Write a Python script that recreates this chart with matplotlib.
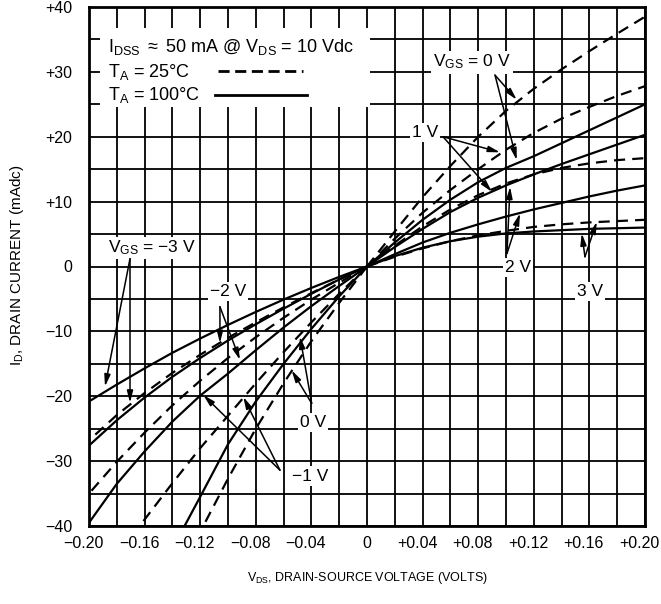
import numpy as np
import matplotlib
matplotlib.use("Agg")
from matplotlib import pyplot as plt
from matplotlib.patches import Rectangle
from matplotlib.transforms import ScaledTranslation

plt.rcParams['font.family'] = ['Liberation Sans', 'DejaVu Sans']
plt.rcParams['mathtext.fontset'] = 'custom'
plt.rcParams['mathtext.rm'] = 'Liberation Sans'
plt.rcParams['mathtext.it'] = 'Liberation Sans'

# drain-source voltage steps (volts)
vds_pos = [0, 0.02, 0.04, 0.06, 0.08, 0.10, 0.12, 0.14, 0.16, 0.18, 0.20]
vds_neg = [0, -0.02, -0.04, -0.06, -0.08, -0.10, -0.12, -0.14, -0.16, -0.18, -0.20]

# positive side, VGS = 0, 1, 2, 3 V  (mAdc)
pos_25 = {
    "0 V": [0, 5.4, 10.7, 15.5, 20.0, 24.0, 27.4, 30.4, 33.2, 35.9, 38.5],
    "1 V": [0, 4.3, 8.3, 11.8, 15.0, 18.0, 20.6, 22.8, 24.6, 26.3, 27.8],
    "2 V": [0, 3.2, 6.2, 8.8, 11.0, 12.8, 14.2, 15.2, 15.9, 16.4, 16.7],
    "3 V": [0, 1.5, 2.8, 3.9, 4.8, 5.5, 6.1, 6.5, 6.8, 7.0, 7.2],
}
pos_100 = {
    "0 V": [0, 3.7, 7.2, 10.3, 13.0, 15.2, 17.0, 19.0, 21.0, 23.0, 25.0],
    "1 V": [0, 3.0, 5.8, 8.4, 10.6, 12.5, 14.2, 15.8, 17.3, 18.8, 20.3],
    "2 V": [0, 1.9, 3.7, 5.2, 6.5, 7.7, 8.8, 9.8, 10.8, 11.7, 12.5],
    "3 V": [0, 1.6, 2.9, 3.9, 4.6, 5.1, 5.4, 5.6, 5.8, 5.9, 6.0],
}
# negative side, VGS = -3, -2, -1, 0 V
neg_25 = {
    "-3 V": [0, -2.0, -4.1, -6.3, -8.6, -11.0, -13.6, -16.4, -19.5, -22.9, -26.8],
    "-2 V": [0, -2.5, -5.1, -7.9, -10.9, -14.1, -17.6, -21.4, -25.6, -30.1, -35.0],
    "-1 V": [0, -4.2, -8.6, -13.2, -18.0, -23.0, -28.0, -33.4, -39.0, -44.8],
    "0 V": [0, -5.6, -11.5, -18.0, -25.0, -32.7, -40.9, -49.5],
}
neg_100 = {
    "-3 V": [0, -1.6, -3.3, -5.1, -7.0, -9.0, -11.1, -13.3, -15.7, -18.2, -20.8],
    "-2 V": [0, -2.0, -4.2, -6.5, -8.9, -11.4, -14.1, -17.0, -20.2, -23.7, -27.6],
    "-1 V": [0, -3.0, -6.1, -9.4, -12.9, -16.5, -19.9, -23.9, -28.5, -33.5, -39.5],
    "0 V": [0, -4.6, -9.6, -15.0, -20.8, -27.4, -35.5, -43.5],
}

x_ticks = [-0.20, -0.16, -0.12, -0.08, -0.04, 0, 0.04, 0.08, 0.12, 0.16, 0.20]
x_labels = ["\u22120.20", "\u22120.16", "\u22120.12", "\u22120.08", "\u22120.04", "0",
            "+0.04", "+0.08", "+0.12", "+0.16", "+0.20"]
y_ticks = [-40, -30, -20, -10, 0, 10, 20, 30, 40]
y_labels = ["\u221240", "\u221230", "\u221220", "\u221210", "0", "+10", "+20", "+30", "+40"]

fig = plt.figure(figsize=(6.61, 6.04), dpi=100)
ax = fig.add_axes([89/661, 1-526/604, 556/661, 519/604])

dash = (0, (5, 3.2))
lw = 1.6
for key in pos_25:
    ax.plot(vds_pos, pos_25[key], color='k', lw=lw, linestyle=dash, zorder=3)
    ax.plot(vds_pos, pos_100[key], color='k', lw=lw, zorder=3)
for key in neg_25:
    ax.plot(vds_neg[:len(neg_25[key])], neg_25[key], color='k', lw=lw, linestyle=dash, zorder=3)
    ax.plot(vds_neg[:len(neg_100[key])], neg_100[key], color='k', lw=lw, zorder=3)

ax.set_xlim(-0.2, 0.2)
ax.set_ylim(-40, 40)
ax.set_xticks(np.arange(-0.2, 0.2001, 0.02), minor=True)
ax.set_yticks(np.arange(-40, 40.1, 5), minor=True)
ax.set_xticks(x_ticks)
ax.set_xticklabels(x_labels)
ax.set_yticks(y_ticks)
ax.set_yticklabels(y_labels)
ax.tick_params(which='both', length=0, labelsize=11.5)
ax.tick_params(axis='y', pad=12)
ax.tick_params(axis='x', pad=7)
ax.grid(which='both', color='k', lw=1.3)
ax.set_axisbelow(True)
for s in ax.spines.values():
    s.set_linewidth(2)

# signs hang to the left of the centred numbers
shift = ScaledTranslation(-4/72, 0, fig.dpi_scale_trans)
for t in ax.get_xticklabels():
    if t.get_text() != "0":
        t.set_transform(t.get_transform() + shift)

# white box behind the conditions text
ax.add_patch(Rectangle((-0.192, 24.6), 0.194, 12.2, fc='white', ec='none', zorder=2))
ax.text(-0.186, 33.9, r"I$_{\rm DSS}$ $\approx$ 50 mA @ V$_{\rm DS}$ = 10 Vdc",
        fontsize=13, va='center', ha='left', zorder=4)
ax.text(-0.186, 30.0, r"T$_{\rm A}$ = 25°C", fontsize=13, va='center', ha='left', zorder=4)
ax.text(-0.186, 26.4, r"T$_{\rm A}$ = 100°C", fontsize=13, va='center', ha='left', zorder=4)
ax.plot([-0.107, -0.046], [30.1, 30.1], color='k', lw=2, linestyle=(0, (4, 2)), zorder=4)
ax.plot([-0.109, -0.043], [26.4, 26.4], color='k', lw=2, zorder=4)

box = dict(fc='white', ec='none', pad=1.5)
arrow = dict(arrowstyle='-|>,head_length=0.7,head_width=0.18', color='k', lw=1.1,
             shrinkA=0, shrinkB=0)


def label(text, xy, start, tips):
    ax.text(xy[0], xy[1], text, fontsize=12.5, ha='center', va='center', bbox=box, zorder=5)
    for t in tips:
        ax.annotate('', xy=t, xytext=start, arrowprops=arrow, zorder=5)


label(r"V$_{\rm GS}$ = 0 V", (0.0755, 31.5), (0.0921, 29.5), [(0.1077, 25.7), (0.1077, 16.4)])
label("1 V", (0.0417, 20.6), (0.0547, 20.0), [(0.0957, 17.6), (0.0899, 11.5)])
label("2 V", (0.1086, -0.2), (0.1007, 2.0), [(0.1029, 12.3), (0.1101, 8.2)])
label("3 V", (0.1604, -3.8), (0.1568, 1.5), [(0.1545, 5.1), (0.1653, 6.9)])
label(r"V$_{\rm GS}$ = " + "\u22123 V", (-0.1547, 2.85), (-0.1705, 1.2),
      [(-0.1885, -18.5), (-0.1705, -21.0)])
label("\u22122 V", (-0.100, -3.9), (-0.1058, -6.2), [(-0.1058, -11.8), (-0.0914, -14.4)])
label("0 V", (-0.0388, -24.0), (-0.0398, -21.1), [(-0.0482, -10.8), (-0.0542, -16.0)])
label("\u22121 V", (-0.041, -32.3), (-0.0626, -31.4), [(-0.1178, -19.8), (-0.089, -20.1)])

fig.text(367/661, 1-578/604, r"V$_{\rm DS}$, DRAIN-SOURCE VOLTAGE (VOLTS)",
         fontsize=9, ha='center', va='center')
fig.text(17/661, 1-265/604, r"I$_{\rm D}$, DRAIN CURRENT (mAdc)",
         fontsize=11, ha='center', va='center', rotation=90)

fig.savefig("out.png", dpi=100)
